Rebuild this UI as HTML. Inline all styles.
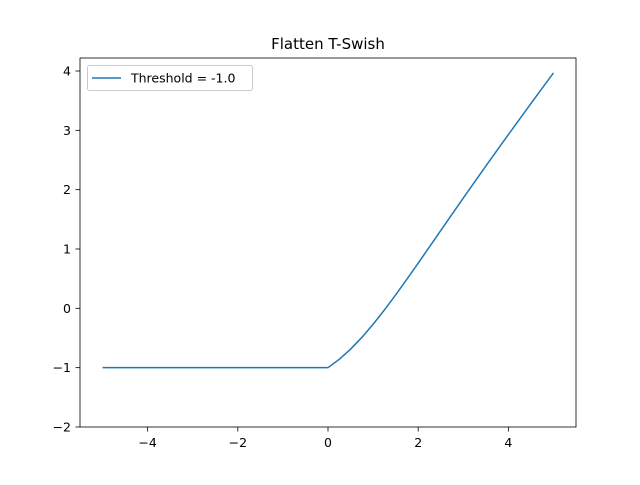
<!DOCTYPE html>
<html><head><meta charset="utf-8"><style>
body{margin:0;background:#fff;}
svg text{font-family:"DejaVu Sans","Liberation Sans",sans-serif;fill:#000;}
</style></head><body>
<svg id="c" width="640" height="480" xmlns="http://www.w3.org/2000/svg"></svg>
<script>
const xs = [-5, -4, -3, -2, -1, 0, 0.25, 0.5, 0.75, 1, 1.25, 1.5, 1.75, 2, 2.5, 3, 3.5, 4, 4.5, 5];
const ys = [-1, -1, -1, -1, -1, -1, -0.8595, -0.6888, -0.4906, -0.2689, -0.0284, 0.2264, 0.4910, 0.7616, 1.3103, 1.8577, 2.3974, 2.928, 3.4505, 3.9665];
const xTicks = [-4, -2, 0, 2, 4];
const yTicks = [-2, -1, 0, 1, 2, 3, 4];
const xTickLabels = ["\u22124", "\u22122", "0", "2", "4"];
const yTickLabels = ["\u22122", "\u22121", "0", "1", "2", "3", "4"];
const L=80,R=576,T=58,B=427;
const xMin=-5.5,xMax=5.5,yMin=-2,yMax=4.219;
const sx=v=>L+(v-xMin)/(xMax-xMin)*(R-L);
const sy=v=>B-(v-yMin)/(yMax-yMin)*(B-T);
const svg=document.getElementById('c');
const NS='http://www.w3.org/2000/svg';
function mk(t,a,txt){const e=document.createElementNS(NS,t);for(const k in a)e.setAttribute(k,a[k]);if(txt!==undefined)e.textContent=txt;svg.appendChild(e);return e;}
let d=xs.map((x,i)=>(i?'L':'M')+sx(x).toFixed(2)+','+sy(ys[i]).toFixed(2)).join(' ');
let line=mk('path',{d:d,fill:'none',stroke:'#1f77b4','stroke-width':1.5});


let fr=mk('rect',{x:L,y:T,width:R-L,height:B-T,fill:'none',stroke:'#000','stroke-width':0.8});


xTicks.forEach((v,i)=>{
  const x=sx(v);
  const tk=mk('line',{x1:x,x2:x,y1:B,y2:B+4.5,stroke:'#000','stroke-width':0.8});
  
  
  const t=mk('text',{x:x,y:B+20,'text-anchor':'middle','font-size':12.5},xTickLabels[i]);
  
  
});
yTicks.forEach((v,i)=>{
  const y=sy(v);
  const tk=mk('line',{x1:L-4.5,x2:L,y1:y,y2:y,stroke:'#000','stroke-width':0.8});
  
  
  const t=mk('text',{x:L-9,y:y+4.5,'text-anchor':'end','font-size':12.5},yTickLabels[i]);
  
  
});
const title=mk('text',{x:(L+R)/2,y:49,'text-anchor':'middle','font-size':15},'Flatten T-Swish');


const lg=mk('rect',{x:87.5,y:65.5,width:165,height:25,rx:2,fill:'#fff',stroke:'#ccc','stroke-width':1});


const ll=mk('line',{x1:92,x2:121,y1:78,y2:78,stroke:'#1f77b4','stroke-width':1.5});


const lt=mk('text',{x:131,y:82.5,'font-size':12.5},'Threshold = -1.0');


</script>
</body></html>
